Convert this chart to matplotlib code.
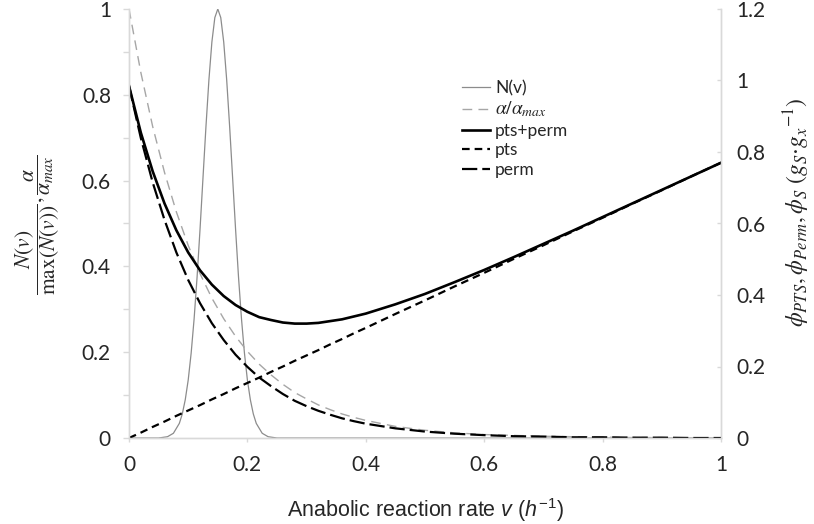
import matplotlib
matplotlib.use('Agg')
import matplotlib.pyplot as plt
from matplotlib.ticker import MultipleLocator

# values
# anabolic rate grid for the smooth curves
v = [0.00, 0.02, 0.04, 0.06, 0.08, 0.10, 0.12, 0.14, 0.16, 0.18, 0.20,
     0.22, 0.24, 0.26, 0.28, 0.30, 0.32, 0.34, 0.36, 0.38, 0.40,
     0.45, 0.50, 0.55, 0.60, 0.65, 0.70, 0.75, 0.80, 0.85, 0.90, 0.95, 1.00]

# alpha / alpha_max (left axis)
alpha_rel = [1.000, 0.852, 0.726, 0.619, 0.527, 0.449, 0.383, 0.326, 0.278, 0.237, 0.202,
             0.172, 0.147, 0.125, 0.106, 0.091, 0.077, 0.066, 0.056, 0.048, 0.041,
             0.027, 0.018, 0.012, 0.008, 0.006, 0.004, 0.003, 0.002, 0.001, 0.001, 0.000, 0.000]

# fluxes (right axis)
pts = [0.000, 0.015, 0.031, 0.046, 0.062, 0.077, 0.092, 0.108, 0.123, 0.139, 0.154,
       0.169, 0.185, 0.200, 0.216, 0.231, 0.246, 0.262, 0.277, 0.293, 0.308,
       0.347, 0.385, 0.424, 0.462, 0.501, 0.539, 0.578, 0.616, 0.655, 0.693, 0.732, 0.770]
perm = [0.985, 0.839, 0.715, 0.610, 0.519, 0.442, 0.377, 0.321, 0.274, 0.233, 0.199,
        0.169, 0.145, 0.123, 0.104, 0.089, 0.076, 0.065, 0.055, 0.047, 0.040,
        0.027, 0.018, 0.012, 0.008, 0.005, 0.004, 0.002, 0.002, 0.001, 0.001, 0.000, 0.000]
pts_perm = [0.985, 0.854, 0.746, 0.656, 0.581, 0.519, 0.469, 0.429, 0.397, 0.372, 0.353,
            0.338, 0.330, 0.323, 0.320, 0.320, 0.322, 0.327, 0.332, 0.340, 0.348,
            0.374, 0.403, 0.436, 0.470, 0.506, 0.543, 0.580, 0.618, 0.656, 0.694, 0.732, 0.770]

# distribution N(v), normalised (left axis)
v_n = [0.00, 0.05, 0.065, 0.075, 0.085, 0.09, 0.095, 0.10, 0.105, 0.11, 0.115, 0.12,
       0.125, 0.13, 0.135, 0.14, 0.145, 0.15, 0.155, 0.16, 0.165, 0.17, 0.175,
       0.18, 0.185, 0.19, 0.195, 0.20, 0.205, 0.21, 0.215, 0.225, 0.235, 0.25, 1.00]
n_rel = [0.000, 0.000, 0.003, 0.011, 0.034, 0.056, 0.089, 0.135, 0.198, 0.278, 0.375, 0.487,
         0.607, 0.726, 0.835, 0.923, 0.980, 1.000, 0.980, 0.923, 0.835, 0.726, 0.607,
         0.487, 0.375, 0.278, 0.198, 0.135, 0.089, 0.056, 0.034, 0.011, 0.003, 0.000, 0.000]

plt.rcParams['lines.scale_dashes'] = False
plt.rcParams['mathtext.fontset'] = 'custom'
plt.rcParams['mathtext.rm'] = 'Liberation Sans'
plt.rcParams['mathtext.it'] = 'Liberation Sans:italic'

spine_c = '#d9d9d9'
text_c = '#262626'
tick_font = 'Lato'

fig = plt.figure(figsize=(8.14, 5.24), dpi=100)
ax = fig.add_axes([129 / 814, 1 - 438 / 524, 592 / 814, 429 / 524])
ax2 = ax.twinx()

l_n, = ax.plot(v_n, n_rel, color='#8c8c8c', lw=0.9, label='N(v)')
l_a, = ax.plot(v, alpha_rel, color='#a6a6a6', lw=1.0, dashes=(7, 4.5),
               label=r'$\alpha/\alpha_{max}$')
l_pp, = ax2.plot(v, pts_perm, color='black', lw=1.9, label='pts+perm')
l_p, = ax2.plot(v, pts, color='black', lw=1.6, dashes=(5.5, 3.6), label='pts')
l_m, = ax2.plot(v, perm, color='black', lw=1.6, dashes=(11, 3.6), label='perm')

ax.set_xlim(0, 1)
ax.set_ylim(0, 1)
ax2.set_ylim(0, 1.2)
ax.xaxis.set_major_locator(MultipleLocator(0.2))
ax.yaxis.set_major_locator(MultipleLocator(0.2))
ax.yaxis.set_minor_locator(MultipleLocator(0.1))
ax2.yaxis.set_major_locator(MultipleLocator(0.2))

def fmt(x, pos):
    return ('%.1f' % x).rstrip('0').rstrip('.') if x != 0 else '0'

for a in (ax, ax2):
    for s in a.spines.values():
        s.set_color(spine_c)
        s.set_linewidth(1.0)
    a.spines['top'].set_visible(False)
    a.yaxis.set_major_formatter(fmt)

ax.xaxis.set_major_formatter(fmt)
ax.tick_params(axis='x', direction='out', length=3, width=1, color=spine_c,
               pad=9, labelsize=15, labelcolor=text_c)
ax.tick_params(axis='y', which='both', direction='out', length=4, width=1,
               color=spine_c, pad=9, labelsize=15, labelcolor=text_c)
ax2.tick_params(axis='y', direction='in', length=3, width=1, color=spine_c,
                pad=11, labelsize=15, labelcolor=text_c)
for lab in ax.get_xticklabels() + ax.get_yticklabels() + ax2.get_yticklabels():
    lab.set_fontfamily(tick_font)

fig.text(0.5 * (129 + 721) / 814, 1 - 510 / 524,
         r'Anabolic reaction rate $\mathit{v}$ $\mathit{(h^{-1})}$',
         ha='center', va='center', fontsize=15.5, family='Liberation Sans',
         color=text_c, math_fontfamily='custom')

fig.text(38 / 814, 1 - 225 / 524,
         r'$\dfrac{N(v)}{\max\left(N(v)\right)}, \dfrac{\alpha}{\alpha_{max}}$',
         ha='center', va='center', rotation=90, fontsize=15.5,
         color=text_c, math_fontfamily='stix')
fig.text(797 / 814, 1 - 212 / 524,
         r'$\phi_{PTS}, \phi_{Perm}, \phi_{S}\ (g_S{\cdot}g_x{}^{-1})$',
         ha='center', va='center', rotation=90, fontsize=17,
         color=text_c, math_fontfamily='stix')

leg = ax2.legend(handles=[l_n, l_a, l_pp, l_p, l_m], loc='upper left',
                 bbox_to_anchor=(462 / 814, 1 - 80 / 524),
                 bbox_transform=fig.transFigure, frameon=False,
                 fontsize=12.5, handlelength=1.6, handletextpad=0.3,
                 labelspacing=0.2, borderaxespad=0, borderpad=0)
for t in leg.get_texts():
    t.set_fontfamily(tick_font)
    t.set_color(text_c)
    t.set_math_fontfamily('stix')
leg.get_texts()[1].set_fontsize(14)

fig.savefig('out.png', dpi=100)
